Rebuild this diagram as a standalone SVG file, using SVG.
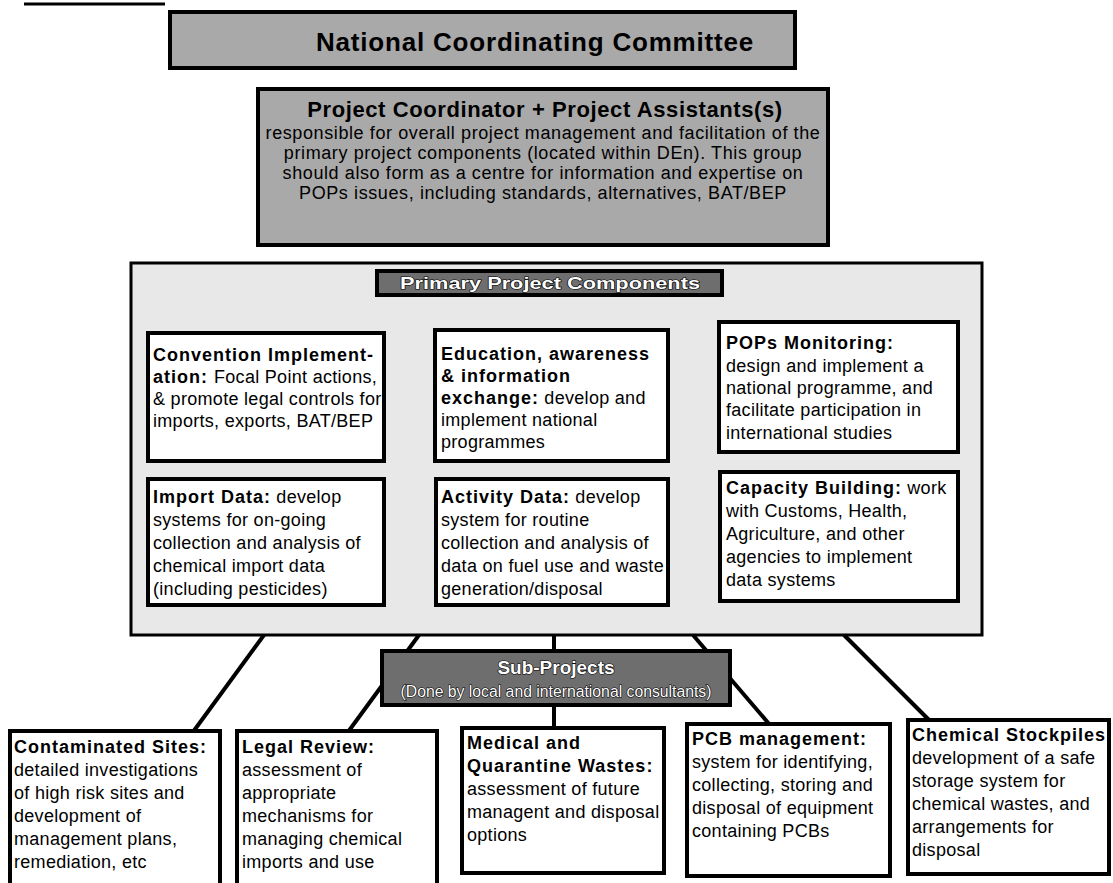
<svg xmlns="http://www.w3.org/2000/svg" width="1113" height="883" viewBox="0 0 1113 883">
<style>
.box{fill:#fff;stroke:#000;stroke-width:4}
.t{font-family:"Liberation Sans",Arial,sans-serif;font-size:18px;letter-spacing:0.3px;fill:#000}
.b{font-weight:bold;letter-spacing:1px}
.hdr{fill:#a9a9a9;stroke:#000;stroke-width:4}
.lbl{fill:#6e6e6e;stroke:#000;stroke-width:4}
.lt{font-family:"Liberation Sans",Arial,sans-serif;fill:#fff;stroke:#000;stroke-width:1.2;paint-order:stroke;text-anchor:middle}
.conn line{stroke:#000;stroke-width:4}
</style>
<rect width="1113" height="883" fill="#fff"/>
<line x1="24" y1="4" x2="165" y2="4" stroke="#000" stroke-width="3"/>

<g id="ncc">
<rect class="hdr" x="170" y="12" width="625" height="56"/>
<text x="535" y="51" font-family="Liberation Sans, Arial, sans-serif" font-weight="bold" font-size="26" letter-spacing="0.8" text-anchor="middle">National Coordinating Committee</text>
</g>

<g id="coordinator">
<rect class="hdr" x="258" y="89" width="570" height="156"/>
<text x="545" y="117" font-family="Liberation Sans, Arial, sans-serif" font-weight="bold" font-size="22" letter-spacing="0.6" text-anchor="middle">Project Coordinator + Project Assistants(s)</text>
<g font-family="Liberation Sans, Arial, sans-serif" font-size="18" letter-spacing="0.6" text-anchor="middle">
<text x="543" y="139">responsible for overall project management and facilitation of the</text>
<text x="543" y="159">primary project components (located within DEn).  This group</text>
<text x="543" y="179">should also form as a centre for information and expertise on</text>
<text x="543" y="199">POPs issues, including standards, alternatives, BAT/BEP</text>
</g>
</g>

<g id="primary">
<rect x="131" y="263" width="851" height="372" fill="#e8e8e8" stroke="#000" stroke-width="3"/>
<rect class="lbl" x="377" y="271" width="345" height="24"/>
<text class="lt" x="550" y="289" font-size="17" font-weight="bold" textLength="300" lengthAdjust="spacingAndGlyphs">Primary Project Components</text>
</g>

<g id="convention">
<rect class="box" x="148" y="333" width="236" height="128"/>
<text class="t" x="153" y="361"><tspan class="b">Convention Implement-</tspan></text>
<text class="t" x="153" y="383"><tspan class="b">ation:</tspan><tspan dx="6">Focal Point actions,</tspan></text>
<text class="t" x="153" y="405">&amp; promote legal controls for</text>
<text class="t" x="153" y="427">imports, exports, BAT/BEP</text>
</g>

<g id="education">
<rect class="box" x="435" y="330" width="233" height="131"/>
<text class="t" x="441" y="360"><tspan class="b">Education, awareness</tspan></text>
<text class="t" x="441" y="382"><tspan class="b">&amp; information</tspan></text>
<text class="t" x="441" y="404"><tspan class="b">exchange:</tspan> develop and</text>
<text class="t" x="441" y="426">implement national</text>
<text class="t" x="441" y="448">programmes</text>
</g>

<g id="monitoring">
<rect class="box" x="719" y="322" width="239" height="130"/>
<text class="t" x="726" y="349"><tspan class="b">POPs Monitoring:</tspan></text>
<text class="t" x="726" y="372">design and implement a</text>
<text class="t" x="726" y="394">national programme, and</text>
<text class="t" x="726" y="416">facilitate participation in</text>
<text class="t" x="726" y="439">international studies</text>
</g>

<g id="import">
<rect class="box" x="148" y="479" width="236" height="126"/>
<text class="t" x="153" y="503"><tspan class="b">Import Data:</tspan> develop</text>
<text class="t" x="153" y="526">systems for on-going</text>
<text class="t" x="153" y="549">collection  and analysis of</text>
<text class="t" x="153" y="572">chemical import data</text>
<text class="t" x="153" y="595">(including pesticides)</text>
</g>

<g id="activity">
<rect class="box" x="436" y="479" width="232" height="126"/>
<text class="t" x="441" y="503"><tspan class="b">Activity Data:</tspan> develop</text>
<text class="t" x="441" y="526">system for routine</text>
<text class="t" x="441" y="549">collection and analysis of</text>
<text class="t" x="441" y="572">data on fuel use and waste</text>
<text class="t" x="441" y="595">generation/disposal</text>
</g>

<g id="capacity">
<rect class="box" x="720" y="472" width="238" height="129"/>
<text class="t" x="726" y="494"><tspan class="b">Capacity Building:</tspan> work</text>
<text class="t" x="726" y="517">with Customs, Health,</text>
<text class="t" x="726" y="540">Agriculture, and other</text>
<text class="t" x="726" y="563">agencies to implement</text>
<text class="t" x="726" y="586">data systems</text>
</g>

<g id="connectors" class="conn">
<line x1="264" y1="635" x2="193" y2="732"/>
<line x1="419" y1="635" x2="348" y2="732"/>
<line x1="554" y1="635" x2="554" y2="651"/>
<line x1="554" y1="705" x2="554" y2="729"/>
<line x1="693" y1="635" x2="770" y2="725"/>
<line x1="844" y1="635" x2="930" y2="721"/>
</g>

<g id="subprojects">
<rect class="lbl" x="382" y="651" width="348" height="54"/>
<text class="lt" x="556" y="674" font-size="19" font-weight="bold">Sub-Projects</text>
<text class="lt" x="556" y="697" font-size="16" textLength="311" lengthAdjust="spacingAndGlyphs">(Done by local and international consultants)</text>
</g>

<g id="contaminated">
<rect class="box" x="10" y="731" width="210" height="170"/>
<text class="t" x="14" y="753"><tspan class="b">Contaminated Sites:</tspan></text>
<text class="t" x="14" y="776">detailed investigations</text>
<text class="t" x="14" y="799">of high risk sites and</text>
<text class="t" x="14" y="822">development of</text>
<text class="t" x="14" y="845">management plans,</text>
<text class="t" x="14" y="868">remediation, etc</text>
</g>

<g id="legal">
<rect class="box" x="237" y="731" width="200" height="170"/>
<text class="t" x="242" y="753"><tspan class="b">Legal Review:</tspan></text>
<text class="t" x="242" y="776">assessment of</text>
<text class="t" x="242" y="799">appropriate</text>
<text class="t" x="242" y="822">mechanisms for</text>
<text class="t" x="242" y="845">managing chemical</text>
<text class="t" x="242" y="868">imports and use</text>
</g>

<g id="medical">
<rect class="box" x="462" y="728" width="202" height="145"/>
<text class="t" x="467" y="749"><tspan class="b">Medical and</tspan></text>
<text class="t" x="467" y="772"><tspan class="b">Quarantine Wastes:</tspan></text>
<text class="t" x="467" y="795">assessment of future</text>
<text class="t" x="467" y="818">managent and disposal</text>
<text class="t" x="467" y="841">options</text>
</g>

<g id="pcb">
<rect class="box" x="687" y="724" width="203" height="152"/>
<text class="t" x="692" y="745"><tspan class="b">PCB management:</tspan></text>
<text class="t" x="692" y="768">system for identifying,</text>
<text class="t" x="692" y="791">collecting, storing and</text>
<text class="t" x="692" y="814">disposal of equipment</text>
<text class="t" x="692" y="837">containing PCBs</text>
</g>

<g id="stockpiles">
<rect class="box" x="908" y="720" width="201" height="154"/>
<text class="t" x="912" y="741"><tspan class="b" letter-spacing="0.4">Chemical Stockpiles:</tspan></text>
<text class="t" x="912" y="764">development of a safe</text>
<text class="t" x="912" y="787">storage system for</text>
<text class="t" x="912" y="810">chemical wastes, and</text>
<text class="t" x="912" y="833">arrangements for</text>
<text class="t" x="912" y="856">disposal</text>
</g>
</svg>
